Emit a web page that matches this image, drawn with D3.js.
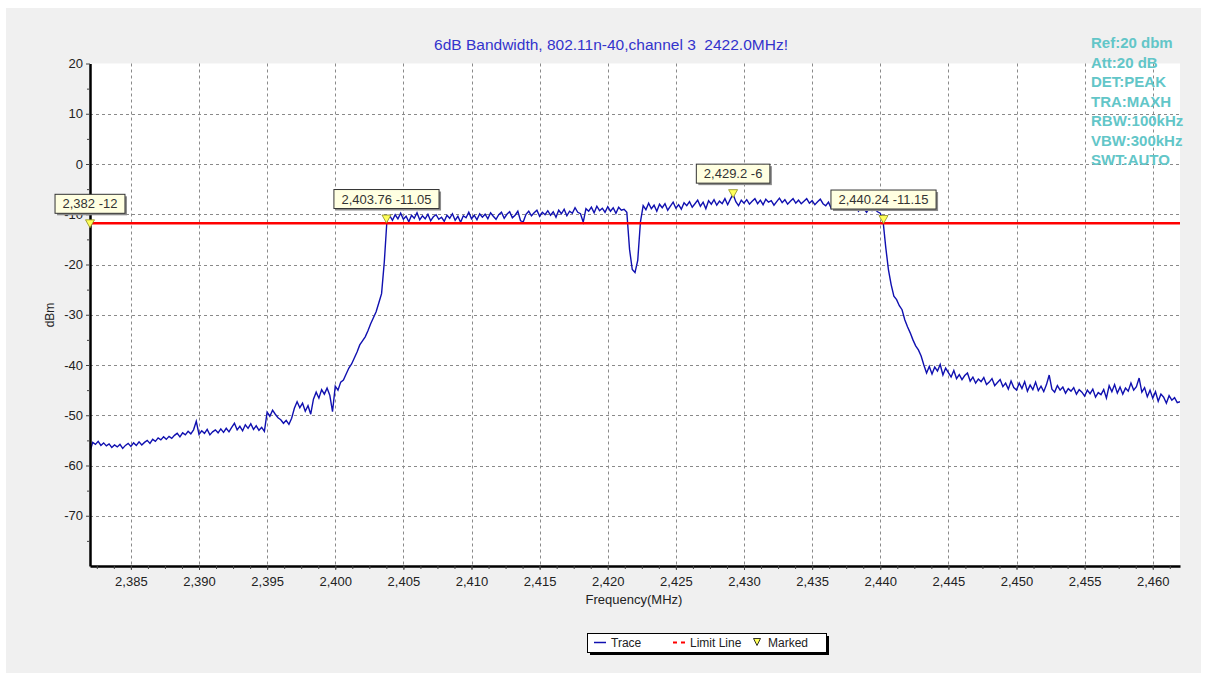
<!DOCTYPE html>
<html>
<head>
<meta charset="utf-8">
<title>6dB Bandwidth, 802.11n-40, channel 3</title>
<script src="https://d3js.org/d3.v7.min.js"></script>
<style>
  body { margin: 0; background: #fff; }
  svg text { font-family: "Liberation Sans", Arial, sans-serif; }
</style>
</head>
<body>
<svg id="chart" width="1213" height="679"></svg>
<script>
// sweep grid of the analyser trace (MHz)
var sweepStart = 2382, sweepStep = 0.2;
// trace level in dBm, one value per sweep point
var traceDbm = [
  -57.2, -55.4, -55.8, -55.2, -56.0, -55.5, -56.1, -55.7, -56.4, -55.9,
  -56.3, -55.8, -56.6, -56.0, -55.6, -56.2, -55.5, -56.0, -55.3, -55.9,
  -55.4, -55.0, -55.6, -54.8, -55.2, -54.5, -54.9, -54.3, -54.8, -54.2,
  -54.6, -54.0, -53.6, -54.3, -53.5, -53.9, -53.2, -53.7, -52.9, -51.2,
  -53.8, -53.1, -53.6, -52.8, -53.9, -53.3, -52.9, -53.5, -52.7, -53.4,
  -52.6, -53.3, -52.4, -51.6, -52.9, -52.2, -53.1, -51.9, -52.6, -51.7,
  -52.8, -52.1, -53.0, -52.4, -53.2, -49.4, -50.2, -49.0, -49.8, -50.5,
  -50.9, -51.6, -51.0, -51.8, -50.6, -48.6, -47.3, -48.5, -47.6, -49.2,
  -48.1, -49.8, -46.8, -45.4, -46.6, -44.9, -45.8, -44.6, -46.0, -49.3,
  -44.2, -45.0, -43.4, -43.0, -41.8, -40.6, -39.8, -38.6, -37.4, -36.0,
  -35.2, -34.4, -33.2, -31.8, -30.6, -29.4, -27.6, -25.8, -19.5, -11.0,
  -10.3, -11.2, -10.1, -10.9, -9.8, -11.0, -10.4, -11.5, -10.2, -10.8,
  -9.7, -11.1, -10.3, -10.9, -10.0, -11.3, -10.5, -10.1, -11.0, -10.6,
  -11.4, -10.2, -10.8, -9.9, -11.2, -10.4, -11.6, -10.3, -10.7, -9.6,
  -10.9, -10.2, -11.1, -9.9, -10.6, -10.0, -10.9, -9.7, -10.4, -11.0,
  -10.1, -9.6, -10.8, -10.0, -9.5, -10.7, -10.2, -9.4, -11.3, -11.5,
  -10.0, -9.4, -10.3, -9.7, -9.2, -10.4, -9.6, -10.1, -9.3, -10.2,
  -9.5, -10.6, -9.2, -9.9, -9.0, -10.3, -9.4, -9.8, -8.7, -9.6,
  -9.9, -11.6, -8.9, -9.4, -8.6, -9.7, -8.4, -9.3, -8.8, -9.6,
  -8.5, -9.4, -8.7, -9.8, -8.6, -9.2, -9.0, -9.6, -17.0, -21.0,
  -21.6, -19.2, -11.5, -8.3, -9.1, -7.8, -8.9, -8.2, -9.4, -8.0,
  -8.7, -7.9, -9.2, -8.4, -7.6, -8.8, -8.1, -9.0, -7.7, -8.3,
  -7.5, -8.6, -7.9, -7.2, -8.4, -7.6, -8.9, -7.3, -8.0, -7.1,
  -8.2, -7.4, -7.9, -6.9, -8.1, -7.0, -6.0, -7.5, -8.3, -7.2,
  -7.8, -7.1, -8.0, -7.4, -6.9, -7.9, -7.2, -8.1, -7.0, -7.6,
  -7.3, -8.2, -7.5, -6.8, -7.7, -7.1, -8.0, -7.4, -6.9, -7.8,
  -7.2, -7.9, -7.4, -6.9, -7.8, -7.3, -8.1, -7.5, -7.0, -7.9,
  -8.3, -7.6, -8.8, -8.0, -7.7, -8.5, -8.1, -9.0, -8.4, -8.7,
  -9.1, -8.3, -9.4, -8.6, -8.9, -9.6, -8.8, -9.3, -9.0, -9.5,
  -9.8, -11.2, -16.5, -21.0, -24.0, -26.3, -27.0, -28.2, -29.0, -31.0,
  -32.4, -33.6, -35.0, -36.2, -37.0, -38.2, -40.0, -41.6, -40.3, -41.8,
  -40.4, -41.2, -39.9, -42.0, -40.6, -41.5, -42.4, -41.1, -42.7, -41.9,
  -42.9, -42.1, -41.6, -43.2, -42.4, -43.6, -42.8, -43.3, -42.5, -43.9,
  -43.4, -42.7, -44.1, -43.5, -42.9, -44.3, -43.6, -44.8, -43.2, -44.5,
  -45.0, -43.6, -44.7, -43.3, -45.2, -44.0, -44.9, -43.4, -45.1, -44.2,
  -45.3, -43.9, -42.0, -44.8, -45.4, -44.1, -45.0, -44.4, -45.6, -44.7,
  -45.2, -44.5, -45.8, -44.9, -45.4, -46.2, -45.0, -45.7, -44.8, -46.4,
  -45.5, -45.9, -44.9, -46.6, -44.1, -45.3, -43.9, -45.6, -44.4, -45.8,
  -44.6, -45.2, -43.6, -45.0, -44.3, -42.6, -45.4, -44.5, -46.3, -45.0,
  -46.6, -45.3, -47.2, -45.8, -46.4, -47.6, -46.1, -47.0, -46.5, -47.5,
  -47.3
];
var limitDbm = -12;
var markerFreq = [2382, 2403.76, 2429.2, 2440.24];
var markerDbm = [-12, -11.05, -6, -11.15];
var xTicks = [2385, 2390, 2395, 2400, 2405, 2410, 2415, 2420, 2425, 2430, 2435, 2440, 2445, 2450, 2455, 2460];
var yTicks = [20, 10, 0, -10, -20, -30, -40, -50, -60, -70];
var yGrid = [10, 0, -10, -20, -30, -40, -50, -60, -70];
var settingsText = ["Ref:20 dbm", "Att:20 dB", "DET:PEAK", "TRA:MAXH", "RBW:100kHz", "VBW:300kHz", "SWT:AUTO"];
var titleText = "6dB Bandwidth, 802.11n-40,channel 3  2422.0MHz!";

var svg = d3.select("#chart");
var plotLeft = 90, plotRight = 1180, plotTop = 63.5, plotBottom = 566;

var x = d3.scaleLinear().domain([2382, 2462]).range([plotLeft, plotRight]);
var y = d3.scaleLinear().domain([-80, 20]).range([plotBottom, plotTop]);

// panel + plot background
svg.append("rect").attr("x", 6).attr("y", 8).attr("width", 1195).attr("height", 665).attr("fill", "#f0f0f0");
svg.append("rect").attr("x", plotLeft).attr("y", plotTop).attr("width", plotRight - plotLeft)
  .attr("height", plotBottom - plotTop).attr("fill", "#fff");

// title
svg.append("text").attr("x", 611).attr("y", 50).attr("text-anchor", "middle")
  .style("white-space", "pre").attr("font-size", "15.5px").attr("fill", "#3333cc").text(titleText);

// grid
var grid = svg.append("g").attr("stroke", "#8a8a8a").attr("stroke-dasharray", "3,3").attr("stroke-width", 1);
grid.selectAll(".vg").data(xTicks).enter().append("line")
  .attr("x1", function (d) { return Math.round(x(d)) + 0.5; })
  .attr("x2", function (d) { return Math.round(x(d)) + 0.5; })
  .attr("y1", plotTop).attr("y2", plotBottom);
grid.selectAll(".hg").data(yGrid).enter().append("line")
  .attr("y1", function (d) { return Math.round(y(d)) + 0.5; })
  .attr("y2", function (d) { return Math.round(y(d)) + 0.5; })
  .attr("x1", plotLeft).attr("x2", plotRight);

// trace
svg.append("clipPath").attr("id", "plotclip").append("rect")
  .attr("x", plotLeft).attr("y", plotTop).attr("width", plotRight - plotLeft).attr("height", plotBottom - plotTop);
var line = d3.line()
  .x(function (d, i) { return x(sweepStart + i * sweepStep); })
  .y(function (d) { return y(d); });
svg.append("path").datum(traceDbm).attr("clip-path", "url(#plotclip)")
  .attr("fill", "none").attr("stroke", "#1010b0").attr("stroke-width", 1.4).attr("d", line);

// limit line
svg.append("line").attr("x1", plotLeft).attr("x2", plotRight)
  .attr("y1", y(limitDbm) - 1).attr("y2", y(limitDbm) - 1)
  .attr("stroke", "#ff0000").attr("stroke-width", 2.5);

// axes
var yAxis = svg.append("g").attr("transform", "translate(" + plotLeft + ",0)")
  .call(d3.axisLeft(y).tickValues(yTicks).tickSize(4).tickSizeOuter(0).tickPadding(3)
    .tickFormat(function (d) { return String(d); }));
svg.append("g").attr("transform", "translate(" + plotLeft + ",0)")
  .call(d3.axisLeft(y).tickValues([15, 5, -5, -15, -25, -35, -45, -55, -65, -75]).tickSize(3).tickSizeOuter(0).tickFormat(""))
  .select(".domain").remove();
var xAxis = svg.append("g").attr("transform", "translate(0," + plotBottom + ")")
  .call(d3.axisBottom(x).tickValues(xTicks).tickSize(4).tickSizeOuter(0).tickPadding(7).tickFormat(d3.format(",")));
svg.append("g").attr("transform", "translate(0," + plotBottom + ")")
  .call(d3.axisBottom(x).tickValues(d3.range(2382.5, 2462, 1.25)).tickSize(3).tickSizeOuter(0).tickFormat(""))
  .select(".domain").remove();
svg.selectAll(".tick text").attr("font-size", "13px").attr("fill", "#222")
  .attr("font-family", "'Liberation Sans', Arial, sans-serif");
svg.selectAll(".tick line").attr("stroke", "#444");
yAxis.select(".domain").attr("stroke", "#000").attr("stroke-width", 2.5);
xAxis.select(".domain").attr("stroke", "#000").attr("stroke-width", 2.5);

// axis titles
svg.append("text").attr("transform", "translate(54,315) rotate(-90)").attr("text-anchor", "middle")
  .attr("font-size", "12px").attr("fill", "#222").text("dBm");
svg.append("text").attr("x", 634).attr("y", 604).attr("text-anchor", "middle")
  .attr("font-size", "13px").attr("fill", "#222").text("Frequency(MHz)");

// markers
var tri = "M-4.5,-4.5L4.5,-4.5L0,3.5Z";
var markers = svg.selectAll(".mk").data(markerFreq).enter().append("g")
  .attr("transform", function (d, i) { return "translate(" + x(d) + "," + y(markerDbm[i]) + ")"; });
markers.append("path").attr("d", tri).attr("fill", "#ffff5a").attr("stroke", "#8a8a20").attr("stroke-width", 0.8);
markers.each(function (d, i) {
  var g = d3.select(this);
  var lab = g.append("g").attr("transform", "translate(0,-11)");
  var shadow = lab.append("rect").attr("fill", "#8c8c8c");
  var box = lab.append("rect").attr("fill", "#ffffe1").attr("stroke", "#333").attr("stroke-width", 1);
  var t = lab.append("text").attr("text-anchor", "middle").attr("y", -5)
    .attr("font-size", "13px").attr("fill", "#333")
    .text(d3.format(",")(d) + " " + String(markerDbm[i]));
  var w = t.node().getComputedTextLength() + 15;
  box.attr("x", -w / 2).attr("y", -19).attr("width", w).attr("height", 19);
  shadow.attr("x", -w / 2 + 2).attr("y", -17).attr("width", w).attr("height", 19);
});

// analyser settings
svg.selectAll(".set").data(settingsText).enter().append("text")
  .attr("x", 1091).attr("y", function (d, i) { return 48 + i * 19.5; })
  .attr("font-size", "15px").attr("font-weight", "bold").attr("fill", "#62c6c8")
  .text(function (d) { return d; });

// legend
var lg = svg.append("g");
lg.append("rect").attr("x", 590).attr("y", 636).attr("width", 239).attr("height", 19).attr("fill", "#000");
lg.append("rect").attr("x", 587.5).attr("y", 633.5).attr("width", 239).attr("height", 19).attr("fill", "#fff").attr("stroke", "#000");
lg.append("line").attr("x1", 594).attr("x2", 606).attr("y1", 642.5).attr("y2", 642.5).attr("stroke", "#1010b0").attr("stroke-width", 1.5);
lg.append("text").attr("x", 611).attr("y", 647).attr("font-size", "12px").attr("fill", "#222").text("Trace");
lg.append("line").attr("x1", 673).attr("x2", 686).attr("y1", 642.5).attr("y2", 642.5)
  .attr("stroke", "#ff0000").attr("stroke-width", 2).attr("stroke-dasharray", "4,4");
lg.append("text").attr("x", 690).attr("y", 647).attr("font-size", "12px").attr("fill", "#222").text("Limit Line");
lg.append("path").attr("d", "M-3.5,-3.5L3.5,-3.5L0,3.5Z").attr("transform", "translate(757,642)")
  .attr("fill", "#ffff5a").attr("stroke", "#000").attr("stroke-width", 0.8);
lg.append("text").attr("x", 768).attr("y", 647).attr("font-size", "12px").attr("fill", "#222").text("Marked");
</script>
</body>
</html>
